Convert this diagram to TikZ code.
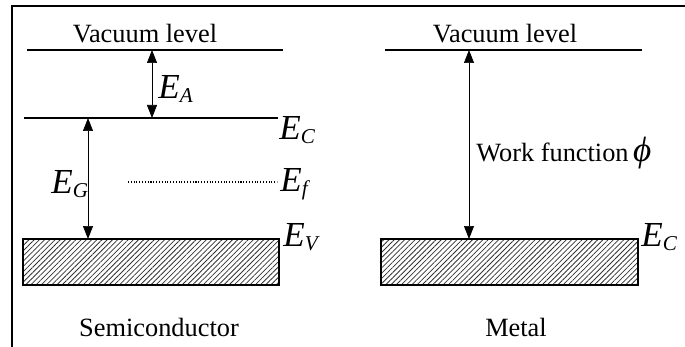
\documentclass[tikz,border=0pt]{standalone}
\usepackage{fontspec}
\setmainfont{Liberation Serif}
\usetikzlibrary{positioning, arrows.meta, patterns.meta}
\definecolor{hatchcol}{RGB}{50, 50, 50}
\newcommand{\lvl}[1]{{\fontsize{20}{21}\selectfont\itshape E}\raisebox{-0.55ex}{\fontsize{12}{13}\selectfont\itshape #1}}
\tikzset{
  level/.style={line width=1.4pt},
  band/.style={draw, line width=0.9pt,
               pattern={Lines[angle=45, distance=2.1pt, line width=0.45pt]}, pattern color=hatchcol},
  gap/.style={{Triangle[length=2.6mm, width=2mm]}-{Triangle[length=2.6mm, width=2mm]}, line width=0.4pt},
  txt/.style={font=\fontsize{15}{17}\selectfont, inner sep=0pt},
  lbl/.style={inner sep=0pt, anchor=west},
}
\begin{document}
\begin{tikzpicture}[x=0.02cm, y=-0.02cm]
  \useasboundingbox (0,0) rectangle (685,347);
  \draw[line width=0.9pt] (12,347) -- (12,6) -- (685,6);

  % semiconductor
  \draw[level] (27,50) -- (283,50);
  \draw[level] (24,118) -- (278,118);
  \draw[densely dotted, line width=0.6pt] (128,182) -- (277,182);
  \node[band, minimum width=256*0.02cm, minimum height=46*0.02cm, inner sep=0pt] (vb) at (151,262) {};
  \node[txt] (vacA) at (145,34) {Vacuum level};
  \coordinate (eaTop) at (152,50);
  \coordinate (eaBot) at (152,118);
  \coordinate (egTop) at (88,118);
  \coordinate (egBot) at (88,239);
  \draw[gap] (eaTop) -- (eaBot);
  \draw[gap] (egTop) -- (egBot);
  \node[lbl] (ea) at (158,89) {\lvl{A}};
  \node[lbl] (ec) at (279,130) {\lvl{C}};
  \node[lbl] (ef) at (280,184) {\lvl{f}};
  \node[lbl] (eg) at (51,184) {\lvl{G}};
  \node[lbl] (ev) at (283,237) {\lvl{V}};
  \node[txt] (semi) at (159,327) {Semiconductor};

  % metal
  \draw[level] (385,50) -- (642,50);
  \node[band, minimum width=257*0.02cm, minimum height=46*0.02cm, inner sep=0pt] (cb) at (509.5,262) {};
  \node[txt] (vacB) at (505,34) {Vacuum level};
  \coordinate (wfTop) at (469,50);
  \coordinate (wfBot) at (469,239);
  \draw[gap] (wfTop) -- (wfBot);
  \node[txt, anchor=west] (wf) at (476,153) {Work function\,{\fontsize{20}{21}\selectfont\itshape ϕ}};
  \node[lbl] (ecm) at (641,237) {\lvl{C}};
  \node[txt] (metal) at (516,327) {Metal};
\end{tikzpicture}
\end{document}
